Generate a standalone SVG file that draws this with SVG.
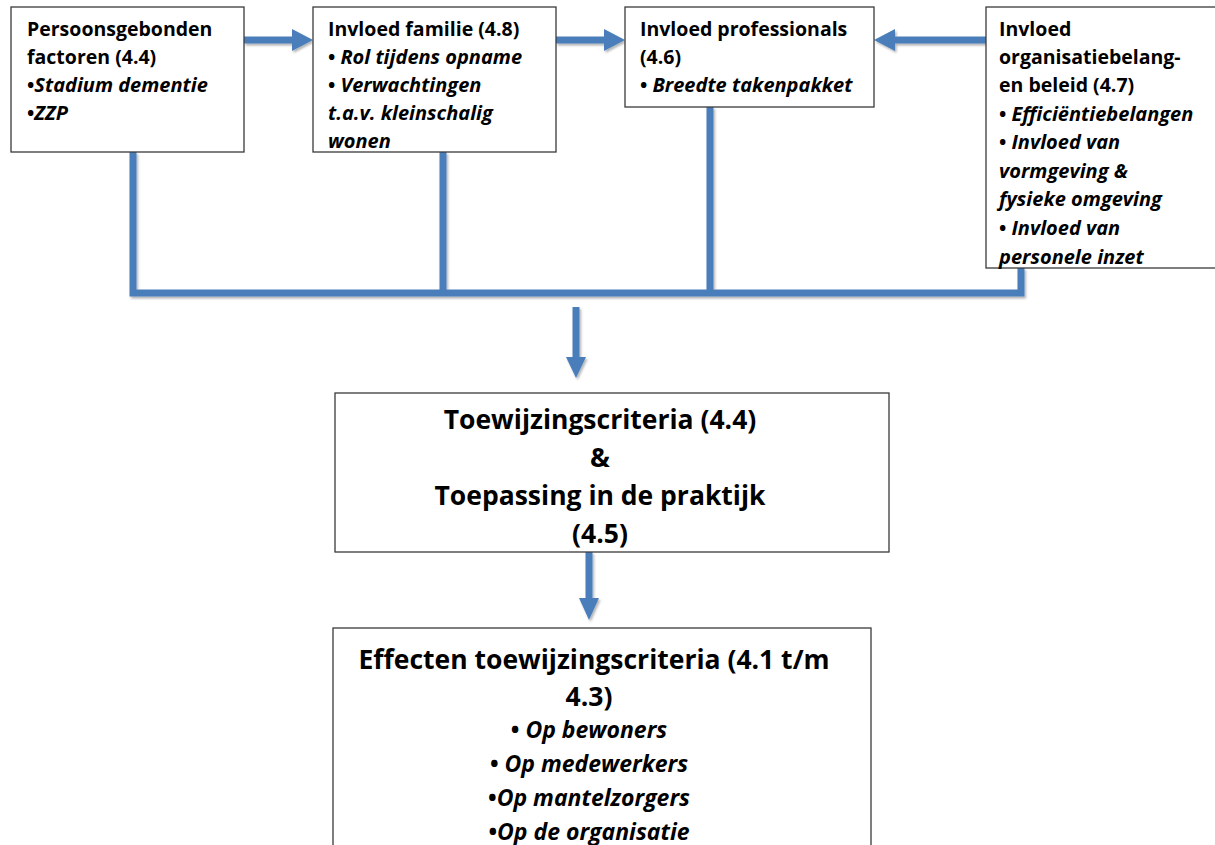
<svg xmlns="http://www.w3.org/2000/svg" width="1215" height="845" viewBox="0 0 1215 845">
<style>
.box{fill:#fff;stroke:#3a3a3a;stroke-width:1.3}
.t{font-family:"Open Sans","Noto Sans",sans-serif;font-weight:bold;fill:#000}
.s{font-size:19.5px}
.s .i,.s.i{font-size:20px}
.i{font-style:italic}
.big{font-size:26.5px}
.mid{font-size:23px}
.c{text-anchor:middle}
.ln{stroke:#4A7EBB;stroke-width:7;fill:none}
.hd{fill:#4A7EBB}
</style>
<defs>
<filter id="sh" x="-5%" y="-5%" width="110%" height="110%">
<feDropShadow dx="1.5" dy="2" stdDeviation="1.2" flood-color="#000" flood-opacity="0.3"/>
</filter>
</defs>
<g id="connectors" filter="url(#sh)">
<line class="ln" x1="244" y1="40" x2="294" y2="40"/>
<polygon class="hd" points="292,29 313,40 292,51"/>
<line class="ln" x1="556" y1="40" x2="606" y2="40"/>
<polygon class="hd" points="604,29 625,40 604,51"/>
<line class="ln" x1="986" y1="40" x2="893" y2="40"/>
<polygon class="hd" points="895,29 874,40 895,51"/>
<polyline class="ln" points="133,152 133,293 1021,293 1021,268"/>
<line class="ln" x1="443" y1="152" x2="443" y2="293"/>
<line class="ln" x1="710" y1="107" x2="710" y2="293"/>
<line class="ln" x1="576" y1="307" x2="576" y2="359"/>
<polygon class="hd" points="566,357 586,357 576,378"/>
<line class="ln" x1="589" y1="552" x2="589" y2="600"/>
<polygon class="hd" points="579,598 599,598 589,620"/>
</g>
<g id="n1">
<rect class="box" x="11" y="7" width="233" height="145"/>
<text class="t s" x="27" y="36">Persoonsgebonden</text>
<text class="t s" x="27" y="64">factoren (4.4)</text>
<text class="t s" x="27" y="92">•<tspan class="i">Stadium dementie</tspan></text>
<text class="t s" x="27" y="120">•<tspan class="i">ZZP</tspan></text>
</g>
<g id="n2">
<rect class="box" x="313" y="7" width="243" height="145"/>
<text class="t s" x="328" y="36">Invloed familie (4.8)</text>
<text class="t s" x="328" y="64">• <tspan class="i">Rol tijdens opname</tspan></text>
<text class="t s" x="328" y="92">• <tspan class="i">Verwachtingen</tspan></text>
<text class="t s i" x="328" y="120">t.a.v. kleinschalig</text>
<text class="t s i" x="328" y="148">wonen</text>
</g>
<g id="n3">
<rect class="box" x="625" y="7" width="249" height="100"/>
<text class="t s" x="640" y="36">Invloed professionals</text>
<text class="t s" x="640" y="64">(4.6)</text>
<text class="t s" x="640" y="92">• <tspan class="i">Breedte takenpakket</tspan></text>
</g>
<g id="n4">
<rect class="box" x="986" y="7" width="240" height="261"/>
<text class="t s" x="999" y="36">Invloed</text>
<text class="t s" x="999" y="64">organisatiebelang-</text>
<text class="t s" x="999" y="92">en beleid (4.7)</text>
<text class="t s" x="999" y="121">• <tspan class="i">Efficiëntiebelangen</tspan></text>
<text class="t s" x="999" y="149">• <tspan class="i">Invloed van</tspan></text>
<text class="t s i" x="999" y="178">vormgeving &amp;</text>
<text class="t s i" x="999" y="206">fysieke omgeving</text>
<text class="t s" x="999" y="235">• <tspan class="i">Invloed van</tspan></text>
<text class="t s i" x="999" y="264">personele inzet</text>
</g>
<g id="n5">
<rect class="box" x="335" y="393" width="554" height="159"/>
<text class="t big c" x="600" y="429">Toewijzingscriteria (4.4)</text>
<text class="t big c" x="600" y="467">&amp;</text>
<text class="t big c" x="600" y="505">Toepassing in de praktijk</text>
<text class="t big c" x="600" y="543">(4.5)</text>
</g>
<g id="n6">
<rect class="box" x="333" y="628" width="538" height="230"/>
<text class="t big c" x="594" y="669">Effecten toewijzingscriteria (4.1 t/m</text>
<text class="t big c" x="589" y="706">4.3)</text>
<text class="t mid c" x="589" y="738">• <tspan class="i">Op bewoners</tspan></text>
<text class="t mid c" x="589" y="772">• <tspan class="i">Op medewerkers</tspan></text>
<text class="t mid c" x="589" y="806">•<tspan class="i">Op mantelzorgers</tspan></text>
<text class="t mid c" x="589" y="840">•<tspan class="i">Op de organisatie</tspan></text>
</g>
</svg>
